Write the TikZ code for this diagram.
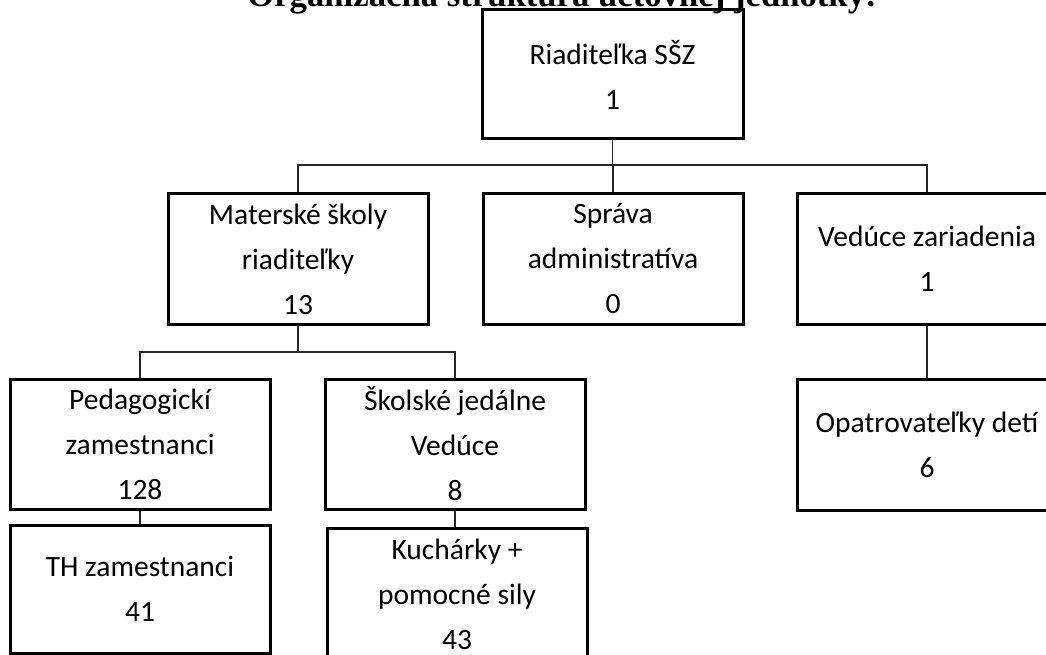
\documentclass[tikz,border=0pt]{standalone}
\usepackage{fontspec}
\setmainfont{Carlito}
\newfontfamily\titlef{Liberation Serif}
\begin{document}
\begin{tikzpicture}[x=1pt,y=-1pt,
  box/.style={draw=black,line width=3pt,minimum width=260pt,minimum height=130pt,inner sep=0pt,align=center,font=\fontsize{29.5}{45}\selectfont},
  conn/.style={draw=black!85,line width=1.3pt}]
\useasboundingbox (0,0) rectangle (1046,655);
\clip (0,0) rectangle (1046,655);
\node[anchor=base,font=\titlef\bfseries\fontsize{34.7}{40}\selectfont] (title) at (562,7) {Organizačná štruktúra účtovnej jednotky:};
\node[box,minimum width=261pt,minimum height=129pt] (root) at (612.5,74.5) {Riaditeľka SŠZ\\1};
\node[box] (mat) at (298,259) {Materské školy\\riaditeľky\\13};
\node[box] (spr) at (613,259) {Správa\\administratíva\\0};
\node[box] (ved) at (927,259) {Vedúce zariadenia\\1};
\node[box] (ped) at (140,444) {Pedagogickí\\zamestnanci\\128};
\node[box] (sko) at (455,444) {Školské jedálne\\Vedúce\\8};
\node[box,minimum height=131pt] (opa) at (927,444.5) {Opatrovateľky detí\\6};
\node[box,minimum height=128pt] (th) at (140,589) {TH zamestnanci\\41};
\node[box,minimum height=132pt] (kuch) at (457,594) {Kuchárky +\\pomocné sily\\43};
\coordinate (bus1) at (612.5,165);
\coordinate (bus2) at (298,352);
\draw[conn] (root.south) -- (bus1);
\draw[conn] (mat.north) |- (bus1) -| (ved.north);
\draw[conn] (spr.north) -- (spr.north |- bus1);
\draw[conn] (mat.south) -- (bus2);
\draw[conn] (ped.north) |- (bus2) -| (sko.north);
\draw[conn] (ped.south) -- (th.north);
\draw[conn] (sko.south) -- (sko.south |- kuch.north);
\draw[conn] (ved.south) -- (opa.north);
\end{tikzpicture}
\end{document}
